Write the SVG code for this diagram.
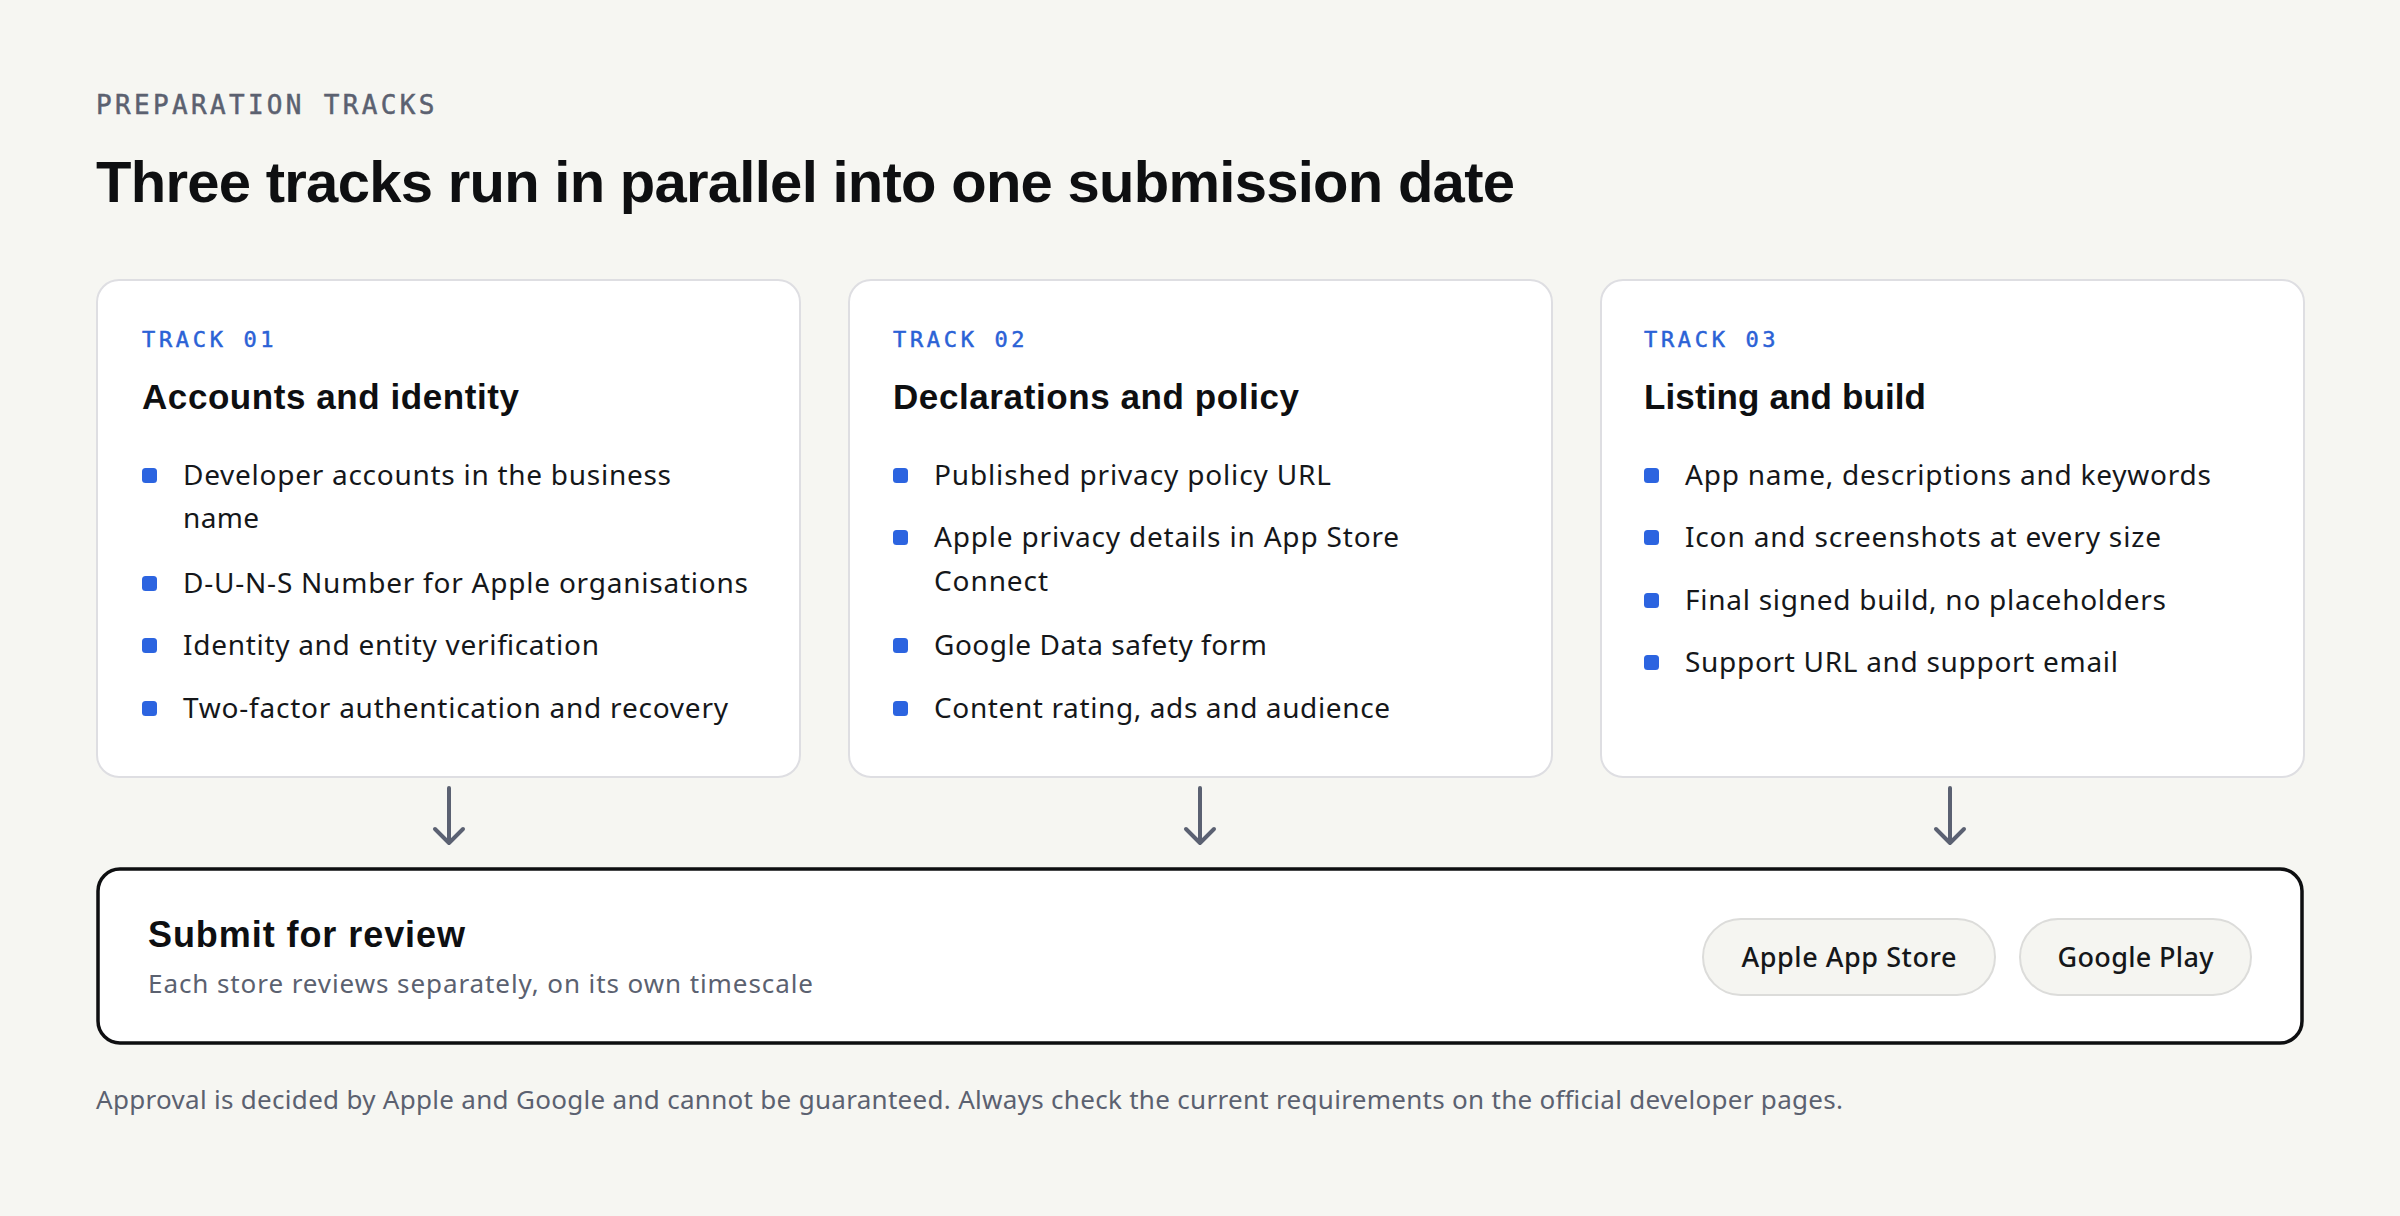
<svg xmlns="http://www.w3.org/2000/svg" width="2400" height="1216" viewBox="0 0 2400 1216">
  <style>
    .eyebrow { font-family: "DejaVu Sans Mono", "Liberation Mono", monospace; font-size: 26px; letter-spacing: 3.6px; fill: #5b6170; stroke: #5b6170; stroke-width: 0.5; }
    .title { font-family: "Liberation Sans", Arial, sans-serif; font-weight: 700; font-size: 58px; fill: #0e0f11; }
    .card { fill: #ffffff; stroke: #dedee2; stroke-width: 2; }
    .tag { font-family: "DejaVu Sans Mono", "Liberation Mono", monospace; font-size: 22px; letter-spacing: 4.4px; fill: #2b62d6; stroke: #2b62d6; stroke-width: 0.5; }
    .ctitle { font-family: "Liberation Sans", Arial, sans-serif; font-weight: 700; font-size: 35px; fill: #0e0f11; }
    .item { font-family: "Noto Sans", "Open Sans", sans-serif; font-size: 28px; fill: #15171a; }
    .dot { fill: #2c64e0; }
    .arrow { fill: none; stroke: #5b6172; stroke-width: 4; stroke-linecap: round; stroke-linejoin: round; }
    .box { fill: #ffffff; stroke: #0e0f11; stroke-width: 3.5; }
    .btitle { font-family: "Liberation Sans", Arial, sans-serif; font-weight: 700; font-size: 36px; fill: #0e0f11; }
    .sub { font-family: "Noto Sans", "Open Sans", sans-serif; font-size: 26px; fill: #5b6170; }
    .pill { fill: #f5f5f1; stroke: #dcdcda; stroke-width: 2; }
    .pilltext { font-family: "Noto Sans", "Open Sans", sans-serif; font-weight: 500; font-size: 27px; fill: #15171a; text-anchor: middle; }
  </style>
  <rect x="0" y="0" width="2400" height="1216" fill="#f6f6f2"/>

  <g id="header">
    <text class="eyebrow" x="96" y="114" textLength="342">PREPARATION TRACKS</text>
    <text class="title" x="96" y="202" textLength="1419">Three tracks run in parallel into one submission date</text>
  </g>

  <g id="card-1">
    <rect class="card" x="97" y="280" width="703" height="497" rx="22"/>
    <text class="tag" x="142" y="347" textLength="136">TRACK 01</text>
    <text class="ctitle" x="142" y="409" textLength="377">Accounts and identity</text>
    <rect class="dot" x="142" y="468" width="15" height="15" rx="3.5"/>
    <text class="item" x="183" y="485" textLength="488">Developer accounts in the business</text>
    <text class="item" x="183" y="528" textLength="76">name</text>
    <rect class="dot" x="142" y="576" width="15" height="15" rx="3.5"/>
    <text class="item" x="183" y="593" textLength="565">D-U-N-S Number for Apple organisations</text>
    <rect class="dot" x="142" y="638" width="15" height="15" rx="3.5"/>
    <text class="item" x="183" y="655" textLength="416">Identity and entity verification</text>
    <rect class="dot" x="142" y="701" width="15" height="15" rx="3.5"/>
    <text class="item" x="183" y="718" textLength="545">Two-factor authentication and recovery</text>
  </g>

  <g id="card-2">
    <rect class="card" x="849" y="280" width="703" height="497" rx="22"/>
    <text class="tag" x="893" y="347" textLength="136">TRACK 02</text>
    <text class="ctitle" x="893" y="409" textLength="406">Declarations and policy</text>
    <rect class="dot" x="893" y="468" width="15" height="15" rx="3.5"/>
    <text class="item" x="934" y="485" textLength="397">Published privacy policy URL</text>
    <rect class="dot" x="893" y="530" width="15" height="15" rx="3.5"/>
    <text class="item" x="934" y="547" textLength="465">Apple privacy details in App Store</text>
    <text class="item" x="934" y="591" textLength="114">Connect</text>
    <rect class="dot" x="893" y="638" width="15" height="15" rx="3.5"/>
    <text class="item" x="934" y="655" textLength="333">Google Data safety form</text>
    <rect class="dot" x="893" y="701" width="15" height="15" rx="3.5"/>
    <text class="item" x="934" y="718" textLength="456">Content rating, ads and audience</text>
  </g>

  <g id="card-3">
    <rect class="card" x="1601" y="280" width="703" height="497" rx="22"/>
    <text class="tag" x="1644" y="347" textLength="136">TRACK 03</text>
    <text class="ctitle" x="1644" y="409" textLength="282">Listing and build</text>
    <rect class="dot" x="1644" y="468" width="15" height="15" rx="3.5"/>
    <text class="item" x="1685" y="485" textLength="526">App name, descriptions and keywords</text>
    <rect class="dot" x="1644" y="530" width="15" height="15" rx="3.5"/>
    <text class="item" x="1685" y="547" textLength="476">Icon and screenshots at every size</text>
    <rect class="dot" x="1644" y="593" width="15" height="15" rx="3.5"/>
    <text class="item" x="1685" y="610" textLength="481">Final signed build, no placeholders</text>
    <rect class="dot" x="1644" y="655" width="15" height="15" rx="3.5"/>
    <text class="item" x="1685" y="672" textLength="433">Support URL and support email</text>
  </g>

  <g id="connectors">
    <path class="arrow" d="M449 788 V843 M435 829 L449 843 L463 829"/>
    <path class="arrow" d="M1200 788 V843 M1186 829 L1200 843 L1214 829"/>
    <path class="arrow" d="M1950 788 V843 M1936 829 L1950 843 L1964 829"/>
  </g>

  <g id="submit">
    <rect class="box" x="98" y="869" width="2204" height="174" rx="22"/>
    <text class="btitle" x="148" y="947" textLength="317">Submit for review</text>
    <text class="sub" x="148" y="993" textLength="665">Each store reviews separately, on its own timescale</text>
    <g id="pill-apple">
      <rect class="pill" x="1703" y="919" width="292" height="76" rx="38"/>
      <text class="pilltext" x="1849" y="967" textLength="215">Apple App Store</text>
    </g>
    <g id="pill-google">
      <rect class="pill" x="2020" y="919" width="231" height="76" rx="38"/>
      <text class="pilltext" x="2135.5" y="967" textLength="156">Google Play</text>
    </g>
  </g>

  <g id="footer">
    <text class="sub" x="96" y="1109" textLength="1747">Approval is decided by Apple and Google and cannot be guaranteed. Always check the current requirements on the official developer pages.</text>
  </g>
</svg>
